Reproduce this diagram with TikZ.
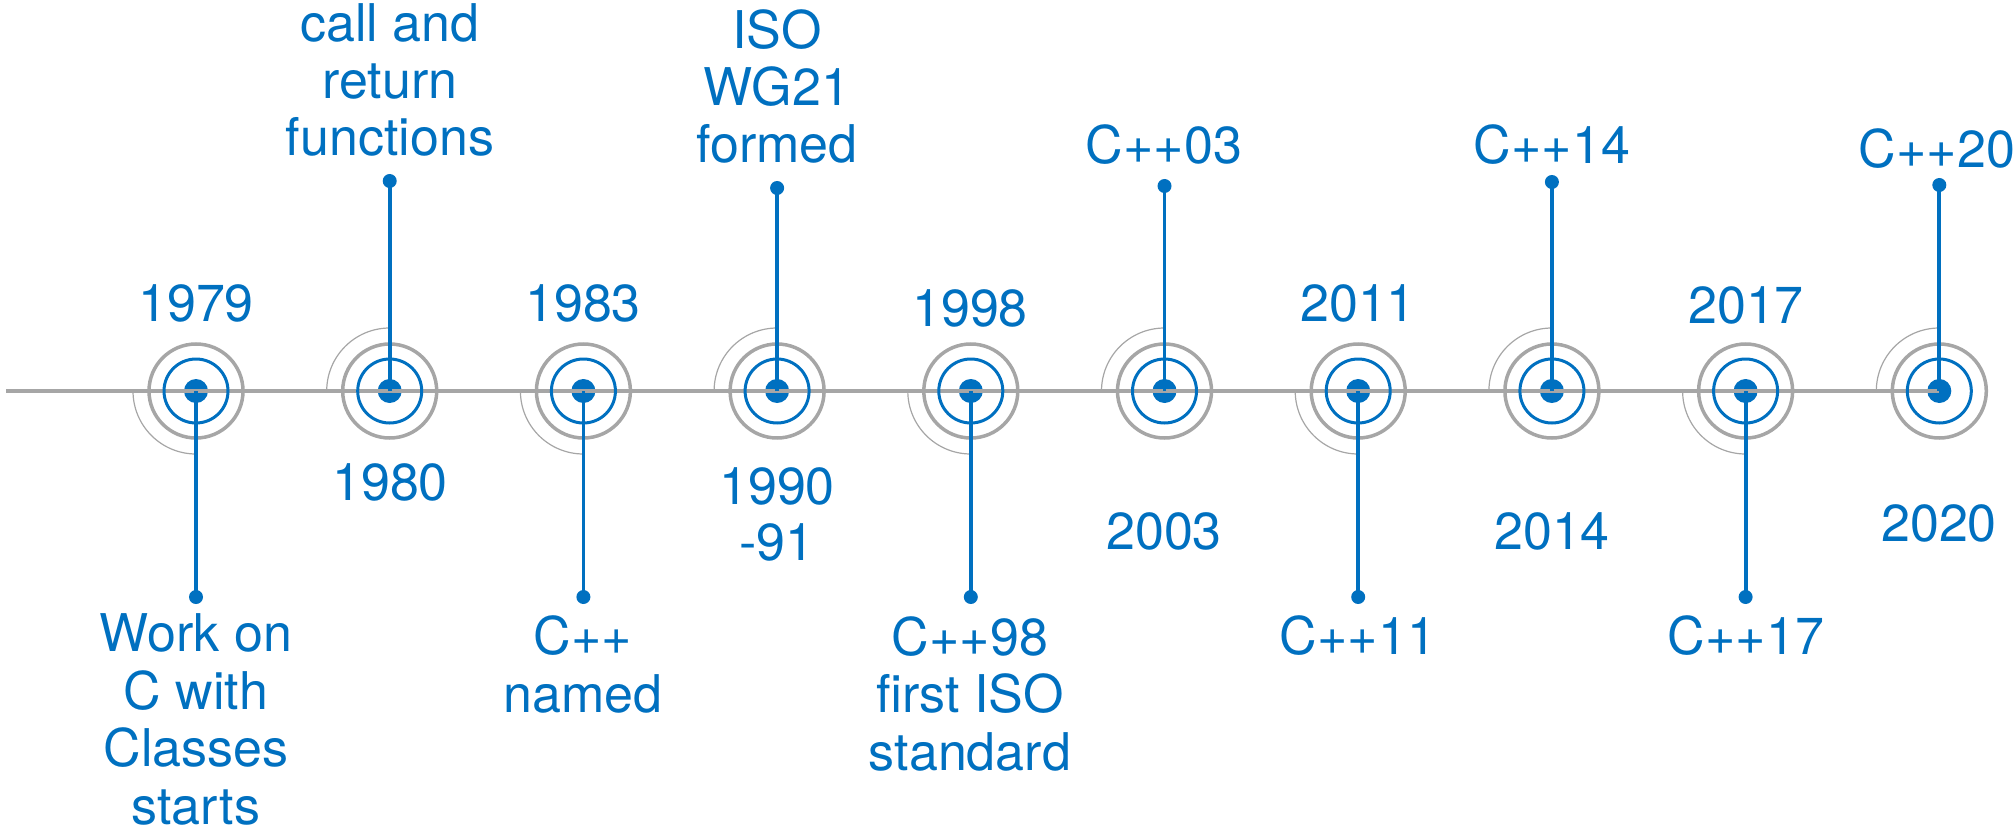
\documentclass[tikz,border=0pt]{standalone}
\usepackage{fontspec}
\setmainfont{TeX Gyre Heros}
\definecolor{cblue}{HTML}{0070C0}
\definecolor{cgray}{HTML}{A6A6A6}
\begin{document}
\begin{tikzpicture}[x=1pt,y=-1pt,
  lbl/.style={text=cblue, font=\fontsize{52}{58}\selectfont, align=center, anchor=base, inner sep=0pt},
  hub/.style={circle, fill=cblue, minimum size=24pt, inner sep=0pt},
  tipdot/.style={circle, fill=cblue, minimum size=14pt, inner sep=0pt},
  ring/.style={draw=cgray, line width=3.5pt},
  bluering/.style={draw=cblue, line width=3pt},
  thinarc/.style={draw=cgray, line width=1.2pt},
  stemline/.style={draw=cblue, line width=3.8pt},
  axisline/.style={draw=cgray, line width=3.5pt}]
\useasboundingbox (0,0) rectangle (2015,829);
% hubs
\foreach \i in {1,...,10}{
  \pgfmathsetmacro\xx{196+193.7*(\i-1)}
  \node[hub] (m\i) at (\xx,391) {};
}
\coordinate (start) at (6,391);
\draw[axisline] (start) -- (m10.center);
% thin arcs
\foreach \i in {1,3,5,7,9}{
  \draw[thinarc] (m\i.center) ++(-63,0) arc[start angle=180, end angle=90, radius=63];
}
\foreach \i in {2,4,6,8,10}{
  \draw[thinarc] (m\i.center) ++(-63,0) arc[start angle=180, end angle=270, radius=63];
}
\foreach \i in {1,...,10}{
  \draw[ring] (m\i.center) circle[radius=47];
  \draw[bluering] (m\i.center) circle[radius=32];
}
% tip dots
\path (m1.center) ++(0,206) node[tipdot] (e1) {};
\path (m2.center) ++(0,-210) node[tipdot] (e2) {};
\path (m3.center) ++(0,206) node[tipdot] (e3) {};
\path (m4.center) ++(0,-203) node[tipdot] (e4) {};
\path (m5.center) ++(0,206) node[tipdot] (e5) {};
\path (m6.center) ++(0,-205) node[tipdot] (e6) {};
\path (m7.center) ++(0,206) node[tipdot] (e7) {};
\path (m8.center) ++(0,-209) node[tipdot] (e8) {};
\path (m9.center) ++(0,206) node[tipdot] (e9) {};
\path (m10.center) ++(0,-206) node[tipdot] (e10) {};
\foreach \i in {1,...,10}{
  \draw[stemline] (m\i.center) -- (e\i.center);
}
% years
\node[lbl] (y1) at (196,321) {1979};
\node[lbl] (y2) at (390,500) {1980};
\node[lbl] (y3) at (583,321) {1983};
\node[lbl, font=\fontsize{52}{56}\selectfont] (y4) at (777,560) {1990\\-91};
\node[lbl] (y5) at (970,326) {1998};
\node[lbl] (y6) at (1164,549) {2003};
\node[lbl] (y7) at (1358,321) {2011};
\node[lbl] (y8) at (1552,549) {2014};
\node[lbl] (y9) at (1746,323) {2017};
\node[lbl] (y10) at (1939,541) {2020};
% events (anchor base = last line)
\node[lbl, font=\fontsize{52}{57.5}\selectfont] (t1) at (196,824) {Work on\\C with\\Classes\\starts};
\node[lbl, font=\fontsize{52}{57}\selectfont] (t2) at (390,156) {call and\\return\\functions};
\node[lbl] (t3) at (583,712) {C++\\named};
\node[lbl, font=\fontsize{52}{57}\selectfont] (t4) at (777,163) {ISO\\WG21\\formed};
\node[lbl, font=\fontsize{52}{57.5}\selectfont] (t5) at (970,770) {C++98\\first ISO\\standard};
\node[lbl] (t6) at (1164,164) {C++03};
\node[lbl] (t7) at (1358,654) {C++11};
\node[lbl] (t8) at (1552,164) {C++14};
\node[lbl] (t9) at (1746,654) {C++17};
\node[lbl] (t10) at (1937,168) {C++20};
\end{tikzpicture}
\end{document}
